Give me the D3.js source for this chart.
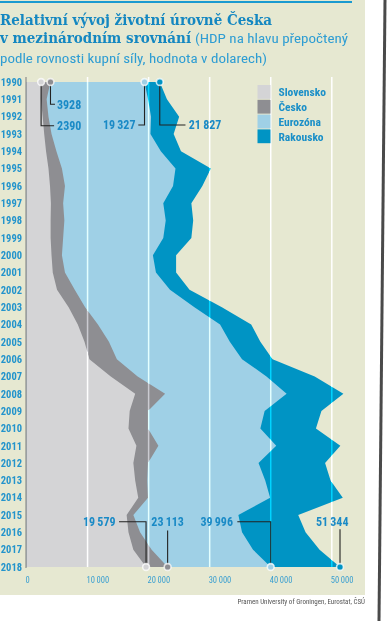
<!DOCTYPE html>
<html>
<head>
<meta charset="utf-8">
<script src="https://cdn.jsdelivr.net/npm/d3@7"></script>
<style>
  body { margin: 0; background: #fff; }
  svg { display: block; }
  .narrow { font-family: "Liberation Sans Narrow", "Roboto Condensed", "Roboto", sans-serif; }
</style>
</head>
<body>
<div id="chart"></div>
<script>
// roky (kategorie osy y)
var years = [1990, 1991, 1992, 1993, 1994, 1995, 1996, 1997, 1998, 1999,
             2000, 2001, 2002, 2003, 2004, 2005, 2006, 2007, 2008, 2009,
             2010, 2011, 2012, 2013, 2014, 2015, 2016, 2017, 2018];

// HDP na hlavu, USD
var rakousko = [21827, 23000, 25000, 24100, 25300, 30200, 28800, 27000, 27300, 27000,
                24500, 24500, 26700, 32000, 36800, 38300, 40300, 47200, 51900, 48300,
                47400, 51400, 48900, 49800, 51800, 44500, 45700, 48000, 51344];
var eurozona = [19327, 19900, 20400, 20300, 22000, 24400, 24000, 22400, 22800, 22400,
                20700, 21200, 23500, 27500, 31700, 33300, 35300, 39300, 42600, 39000,
                38300, 40900, 38000, 39100, 39900, 34700, 35300, 37100, 39996];
var cesko = [3928, 3300, 3600, 4100, 4900, 5800, 6300, 6000, 6200, 6000,
             5800, 6300, 7900, 9600, 11700, 13500, 14800, 18200, 22700, 19900,
             19900, 21600, 19900, 19800, 19900, 17500, 18600, 20500, 23113];
var slovensko = [2390, 2350, 2650, 2900, 3200, 3600, 3850, 4000, 3950, 3950,
                 4100, 4300, 5000, 6900, 8400, 9500, 10300, 13800, 17800, 16900,
                 16700, 18000, 17500, 17800, 18300, 16400, 16700, 17500, 19579];

var xTicks = [0, 10000, 20000, 30000, 40000, 50000];
var seriesNames = ["Slovensko", "Česko", "Eurozóna", "Rakousko"];
var seriesColors = ["#d4d4d6", "#8e8e92", "#9fd0e6", "#0094c4"];

var W = 388, H = 621;
var svg = d3.select("#chart").append("svg").attr("width", W).attr("height", H);

// podklad
svg.append("rect").attr("x", 0).attr("y", 0).attr("width", 365).attr("height", 595).attr("fill", "#e6e8d1");
svg.append("rect").attr("x", 0).attr("y", 1).attr("width", 352).attr("height", 2).attr("fill", "#1a9ad0");
svg.append("line").attr("x1", 385).attr("y1", 0).attr("x2", 379).attr("y2", H)
  .attr("stroke", "#4a4a4a").attr("stroke-width", 3);

// nadpis
var title = svg.append("g");
title.append("text").attr("x", 0).attr("y", 25)
  .attr("font-family", "DejaVu Serif").attr("font-weight", "bold").attr("font-size", 14.5)
  .attr("fill", "#1487c1").attr("textLength", 272).attr("lengthAdjust", "spacingAndGlyphs")
  .text("Relativní vývoj životní úrovně Česka");
title.append("text").attr("x", 0).attr("y", 43)
  .attr("font-family", "DejaVu Serif").attr("font-weight", "bold").attr("font-size", 14.5)
  .attr("fill", "#1487c1").attr("textLength", 191).attr("lengthAdjust", "spacingAndGlyphs")
  .text("v mezinárodním srovnání");
title.append("text").attr("class", "narrow").attr("x", 195).attr("y", 43)
  .attr("font-size", 13).attr("fill", "#2e9dd3")
  .attr("textLength", 153).attr("lengthAdjust", "spacingAndGlyphs")
  .text("(HDP na hlavu přepočtený");
title.append("text").attr("class", "narrow").attr("x", 0).attr("y", 62.5)
  .attr("font-size", 13).attr("fill", "#2e9dd3")
  .attr("textLength", 267).attr("lengthAdjust", "spacingAndGlyphs")
  .text("podle rovnosti kupní síly, hodnota v dolarech)");

// měřítka
var x = d3.scaleLinear().domain([0, 50000]).range([26.5, 331.8]);
var y = d3.scalePoint().domain(years).range([82, 567]);

var series = [slovensko, cesko, eurozona, rakousko];
var area = d3.area()
  .x0(x(0))
  .x1(function(d) { return x(d[1]); })
  .y(function(d) { return y(d[0]); });

// od zadní vrstvy k přední
for (var i = series.length - 1; i >= 0; i--) {
  var pts = years.map(function(yr, j) { return [yr, series[i][j]]; });
  svg.append("path").datum(pts).attr("d", area).attr("fill", seriesColors[i]);
}

// mřížka
svg.append("g").selectAll("line").data(xTicks.slice(1)).join("line")
  .attr("x1", function(d) { return x(d); }).attr("x2", function(d) { return x(d); })
  .attr("y1", 77).attr("y2", 567)
  .attr("stroke", "#4d4d4d").attr("stroke-width", 1.5)
  .style("mix-blend-mode", "color-dodge");

// osa y
svg.append("line").attr("x1", 26).attr("x2", 26).attr("y1", 77).attr("y2", 568)
  .attr("stroke", "#8c8c8c").attr("stroke-width", 1.2);
svg.append("g").selectAll("text").data(years).join("text")
  .attr("class", "narrow")
  .attr("x", 22).attr("y", function(d) { return y(d); }).attr("dy", "0.36em")
  .attr("text-anchor", "end").attr("font-size", 10.5).attr("font-weight", "bold")
  .attr("fill", "#2394cc")
  .text(function(d) { return d; });

// osa x
var fmt = function(v) { return v >= 10000 ? d3.format(",")(v).replace(/,/g, "\u2009") : String(v); };
svg.append("g").selectAll("text").data(xTicks).join("text")
  .attr("class", "narrow")
  .attr("x", function(d) { return x(d) - 1; }).attr("y", 583)
  .attr("font-size", 8.5).attr("fill", "#3a9fd0")
  .text(fmt);

// legenda
var leg = svg.append("g");
seriesNames.forEach(function(name, i) {
  leg.append("rect").attr("x", 257.5).attr("y", 85 + i * 14.8).attr("width", 13).attr("height", 13.8)
    .attr("fill", seriesColors[i]);
  leg.append("text").attr("class", "narrow").attr("x", 278.5).attr("y", 85 + i * 14.8 + 7).attr("dy", "0.36em")
    .attr("font-size", 11.5).attr("font-weight", "bold").attr("fill", "#1a8fc8")
    .text(name);
});

// popisky hodnot 1990 a 2018
var fmtLab = function(v) { return v >= 10000 ? d3.format(",")(v).replace(/,/g, "\u2009") : String(v); };
var callouts = [
  {s: 0, i: 0, dy: 43.7, dx: 13, lx: 16, anchor: "start"},
  {s: 1, i: 0, dy: 22.3, dx: 4.5, lx: 6.5, anchor: "start"},
  {s: 2, i: 0, dy: 43, dx: -6.2, lx: -9, anchor: "end"},
  {s: 3, i: 0, dy: 43, dx: 25.7, lx: 29, anchor: "start"},
  {s: 0, i: 28, dy: -45.3, dx: -27, lx: -30.5, anchor: "end"},
  {s: 1, i: 28, dy: -36.5, dx: 0, lx: 0, ly: -45, anchor: "middle"},
  {s: 2, i: 28, dy: -45.3, dx: -33.4, lx: -37.7, anchor: "end"},
  {s: 3, i: 28, dy: -37.7, dx: 0, lx: 8.5, ly: -45, anchor: "end"}
];
var ann = svg.append("g");
callouts.forEach(function(c) {
  var v = series[c.s][c.i];
  var cx = x(v), cy = y(years[c.i]);
  var p = "M" + cx + "," + cy + "V" + (cy + c.dy) + (c.dx ? "H" + (cx + c.dx) : "");
  ann.append("path").attr("d", p).attr("fill", "none").attr("stroke", "#222").attr("stroke-width", 1.1);
  ann.append("circle").attr("cx", cx).attr("cy", cy).attr("r", 3.4)
    .attr("fill", seriesColors[c.s]).attr("stroke", "rgba(255,255,255,0.75)").attr("stroke-width", 1.6);
  ann.append("text").attr("class", "narrow")
    .attr("x", cx + c.lx).attr("y", cy + (c.ly !== undefined ? c.ly : c.dy)).attr("dy", "0.36em")
    .attr("text-anchor", c.anchor).attr("font-size", 12).attr("font-weight", "bold").attr("fill", "#1a8ac6")
    .text(fmtLab(v));
});

// zdroj
svg.append("text").attr("class", "narrow").attr("x", 365).attr("y", 604)
  .attr("text-anchor", "end").attr("font-size", 7).attr("fill", "#555")
  .text("Pramen University of Groningen, Eurostat, ČSÚ");
</script>
</body>
</html>
